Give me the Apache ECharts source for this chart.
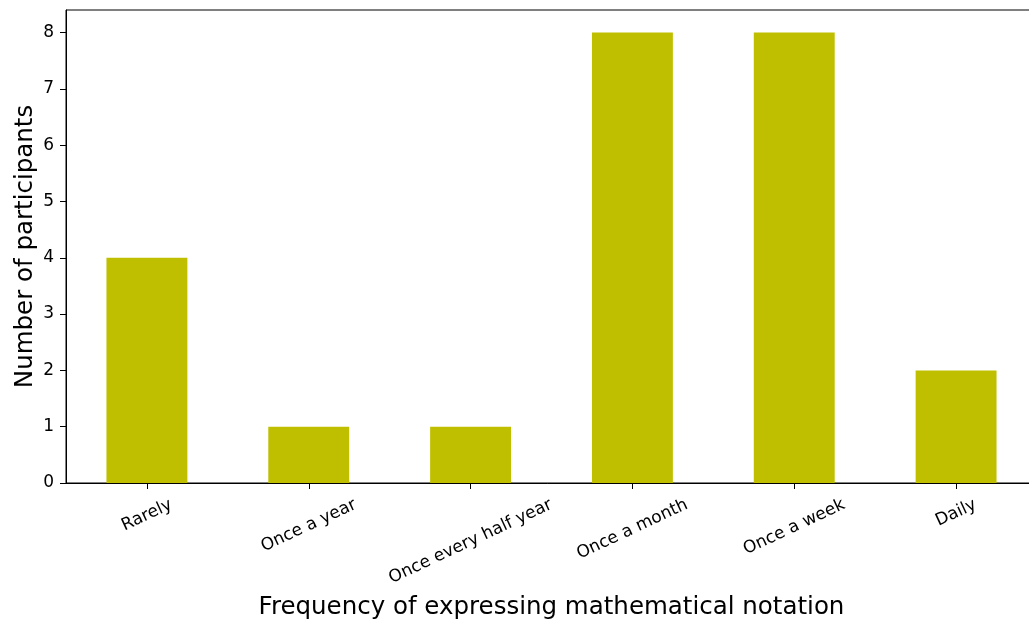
<!DOCTYPE html>
<html>
<head>
<meta charset="utf-8">
<script src="https://cdn.jsdelivr.net/npm/echarts@6/dist/echarts.min.js"></script>
<style>
  html, body { margin: 0; padding: 0; background: #fff; }
  #chart { width: 1029px; height: 619px; }
</style>
</head>
<body>
<div id="chart"></div>
<script>
// Survey answers: how often participants express mathematical notation
const categories = ['Rarely', 'Once a year', 'Once every half year', 'Once a month', 'Once a week', 'Daily'];
const participants = [4, 1, 1, 8, 8, 2];
const yTickValues = [0, 1, 2, 3, 4, 5, 6, 7, 8];

const FONT = 'DejaVu Sans';
const TICK_FS = 17;
const TITLE_FS = 24.5;
const ROT = 25;
const LABEL_MARGIN = 12;     // anchor distance below the axis line
const LABEL_TOP = 12;        // gap from axis line to the top of each rotated label's box

// Rotated tick labels are centred under their tick with the top of their
// rotated bounding box at a fixed distance below the axis; each label gets a
// rich-text style whose padding pushes it straight down by the needed amount.
const measureCtx = document.createElement('canvas').getContext('2d');
measureCtx.font = TICK_FS + 'px "' + FONT + '"';
const th = ROT * Math.PI / 180;
const labelRich = {};
categories.forEach(function (name, i) {
  const w = measureCtx.measureText(name).width;
  const h = TICK_FS * 1.16;
  const halfDrop = (w * Math.sin(th) + h * Math.cos(th)) / 2;
  const d = LABEL_TOP + halfDrop - LABEL_MARGIN;
  const back = d * Math.sin(th);   // against the text direction
  const down = d * Math.cos(th);   // across the text
  labelRich['c' + i] = {
    fontSize: TICK_FS,
    fontFamily: FONT,
    color: '#000',
    padding: [2 * down, 2 * back, 0, 0]
  };
});

const chart = echarts.init(document.getElementById('chart'), null, { renderer: 'canvas' });
chart.setOption({
  animation: false,
  backgroundColor: '#ffffff',
  textStyle: { fontFamily: FONT },
  grid: {
    left: 66, top: 10, bottom: 136, right: -8,
    outerBoundsMode: 'none',
    containLabel: false,
    show: true, borderColor: '#000', borderWidth: 1, backgroundColor: 'transparent'
  },
  xAxis: {
    type: 'category',
    data: categories,
    boundaryGap: true,
    name: 'Frequency of expressing mathematical notation',
    nameLocation: 'middle',
    nameGap: 112,
    nameMoveOverlap: false,
    nameTextStyle: { fontSize: TITLE_FS, color: '#000', fontFamily: FONT },
    axisLine: { show: true, lineStyle: { color: '#000', width: 1 } },
    axisTick: { show: true, alignWithLabel: true, length: 6, lineStyle: { color: '#000', width: 1 } },
    axisLabel: {
      interval: 0,
      rotate: ROT,
      margin: LABEL_MARGIN,
      align: 'center',
      verticalAlign: 'middle',
      fontSize: TICK_FS,
      color: '#000',
      fontFamily: FONT,
      formatter: function (value, index) { return '{c' + index + '|' + value + '}'; },
      rich: labelRich
    },
    splitLine: { show: false }
  },
  yAxis: {
    type: 'value',
    min: 0,
    max: 8.4,
    interval: 1,
    name: 'Number of participants',
    nameLocation: 'middle',
    nameGap: 28,
    nameMoveOverlap: false,
    nameTextStyle: { fontSize: TITLE_FS, color: '#000', fontFamily: FONT },
    axisLine: { show: true, lineStyle: { color: '#000', width: 1 } },
    axisTick: { show: true, length: 6, customValues: yTickValues, lineStyle: { color: '#000', width: 1 } },
    axisLabel: { customValues: yTickValues, margin: 12, fontSize: TICK_FS, color: '#000', fontFamily: FONT },
    splitLine: { show: false }
  },
  series: [{
    type: 'bar',
    data: participants,
    barWidth: '50%',
    itemStyle: { color: '#bfbf00' }
  }]
});
</script>
</body>
</html>
